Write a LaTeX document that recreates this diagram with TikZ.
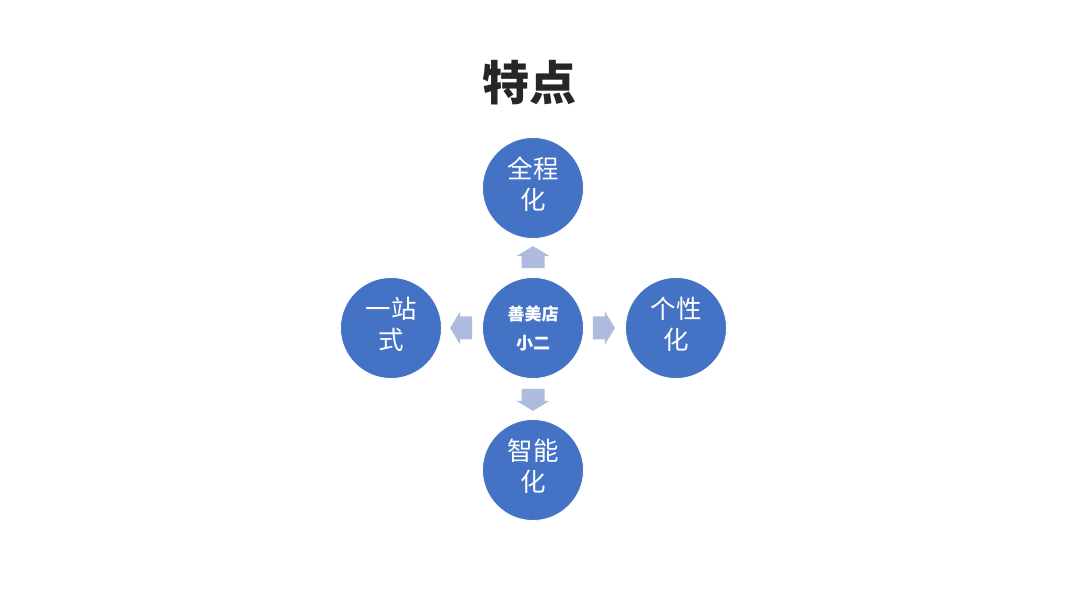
\documentclass[tikz,border=0pt]{standalone}
\usepackage{fontspec}
\newfontfamily\cjk{Noto Sans CJK SC}
\newfontfamily\cjkbold{Noto Sans CJK SC Black}
\usetikzlibrary{calc}
\definecolor{circblue}{HTML}{4472C4}
\definecolor{arrowblue}{HTML}{AEBBDF}
\tikzset{
  x=1pt,y=1pt,
  bubble/.style={circle, fill=circblue, draw=white, line width=0.8pt, minimum size=101pt, inner sep=0pt,
    text=white, align=center, font=\cjk\fontsize{25.5}{31}\selectfont},
  hub/.style={bubble, font=\cjk\bfseries\fontsize{17}{29}\selectfont},
  label/.style={yshift=3pt},
  pics/blockarrow/.style={code={
    \fill[arrowblue] (0,-11.5) -- (12,-11.5) -- (12,-16.5) -- (22,0) -- (12,16.5) -- (12,11.5) -- (0,11.5) -- cycle;
  }}
}
\begin{document}
\begin{tikzpicture}
\fill[white] (0,0) rectangle (1067,600);
\useasboundingbox (0,0) rectangle (1067,600);
\node[font=\cjkbold\fontsize{47}{52}\selectfont, text=black!85] (title) at (529,517) {特点};
\node[hub] (c) at (533,272) {善美店\\小二};
\node[bubble] (t) at (533,412) {};
\node[bubble] (l) at (391,272) {};
\node[bubble] (r) at (676,272) {};
\node[bubble] (b) at (533,130) {};
\node[bubble, fill=none, draw=none, minimum size=0pt, yshift=4pt] (tl) at (t) {全程\\化};
\node[bubble, fill=none, draw=none, minimum size=0pt, yshift=4pt] (ll) at (l) {一站\\式};
\node[bubble, fill=none, draw=none, minimum size=0pt, yshift=4pt] (rl) at (r) {个性\\化};
\node[bubble, fill=none, draw=none, minimum size=0pt, yshift=4pt] (bl) at (b) {智能\\化};
\pic[rotate=0] at ($(c.east)+(9,0)$) {blockarrow};
\pic[rotate=180] at ($(c.west)+(-10,0)$) {blockarrow};
\pic[rotate=90] at ($(c.north)+(0,9)$) {blockarrow};
\pic[rotate=-90] at ($(c.south)+(0,-10)$) {blockarrow};
\end{tikzpicture}
\end{document}
